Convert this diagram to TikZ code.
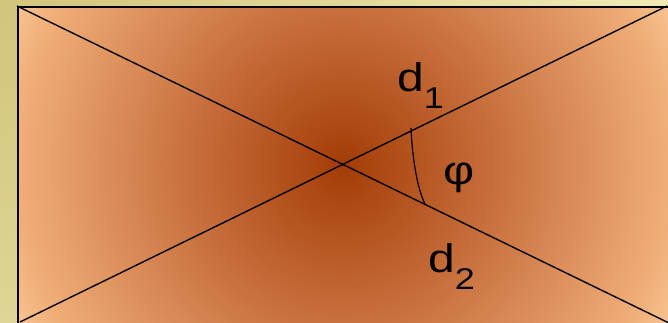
\documentclass[tikz,border=0pt]{standalone}
\usepackage{fontspec}
\setmainfont{Liberation Sans}
\usetikzlibrary{shadings}
\definecolor{cA}{HTML}{A33C06}
\definecolor{cB}{HTML}{C8703E}
\definecolor{cC}{HTML}{F0AE78}
\definecolor{cD}{HTML}{FAC896}
\definecolor{bgTL}{HTML}{D2C47A}
\definecolor{bgTR}{HTML}{F0EAB4}
\definecolor{bgBL}{HTML}{DDD696}
\definecolor{bgBR}{HTML}{ECE6AC}
\pgfdeclareradialshading{brownrad}{\pgfpoint{0bp}{0bp}}{color(0bp)=(cA); color(10.5bp)=(cB); color(22bp)=(cC); color(25bp)=(cD); color(50bp)=(cD)}
\tikzset{
  diag/.style={line width=1.4pt, black},
  lbl/.style={font=\fontsize{40}{40}\selectfont, inner sep=0pt, anchor=base west, xscale=1.2, transform shape},
  arcline/.style={line width=1.2pt, black}
}
\newcommand{\subtxt}[1]{\raisebox{-17pt}{\fontsize{30}{30}\selectfont #1}}
\begin{document}
\begin{tikzpicture}[x=1pt,y=-1pt]
\useasboundingbox (0,0) rectangle (668,322);
\shade[upper left=bgTL, upper right=bgTR, lower left=bgBL, lower right=bgBR] (0,0) rectangle (668,322);
\begin{scope}
  \clip (17.5,6.5) rectangle (670,324);
  \shade[shading=brownrad] (343,165) circle (370);
\end{scope}
\draw[line width=2pt] (17.5,324) -- (17.5,6.5) -- (670,6.5);
\coordinate (tl) at (17,6);
\coordinate (br) at (669,323);
\coordinate (bl) at (20,322);
\coordinate (tr) at (667,6);
\draw[diag] (tl) -- (br);
\draw[diag] (bl) -- (tr);
\coordinate (a1) at (411,128);
\coordinate (a2) at (425,204);
\draw[arcline] (a1) .. controls (412,152) and (416,186) .. (a2);
\node[lbl] (d1) at (397,91) {d\subtxt{1}};
\node[lbl] (phi) at (443,184) {φ};
\node[lbl] (d2) at (428,272) {d\subtxt{2}};
\end{tikzpicture}
\end{document}
